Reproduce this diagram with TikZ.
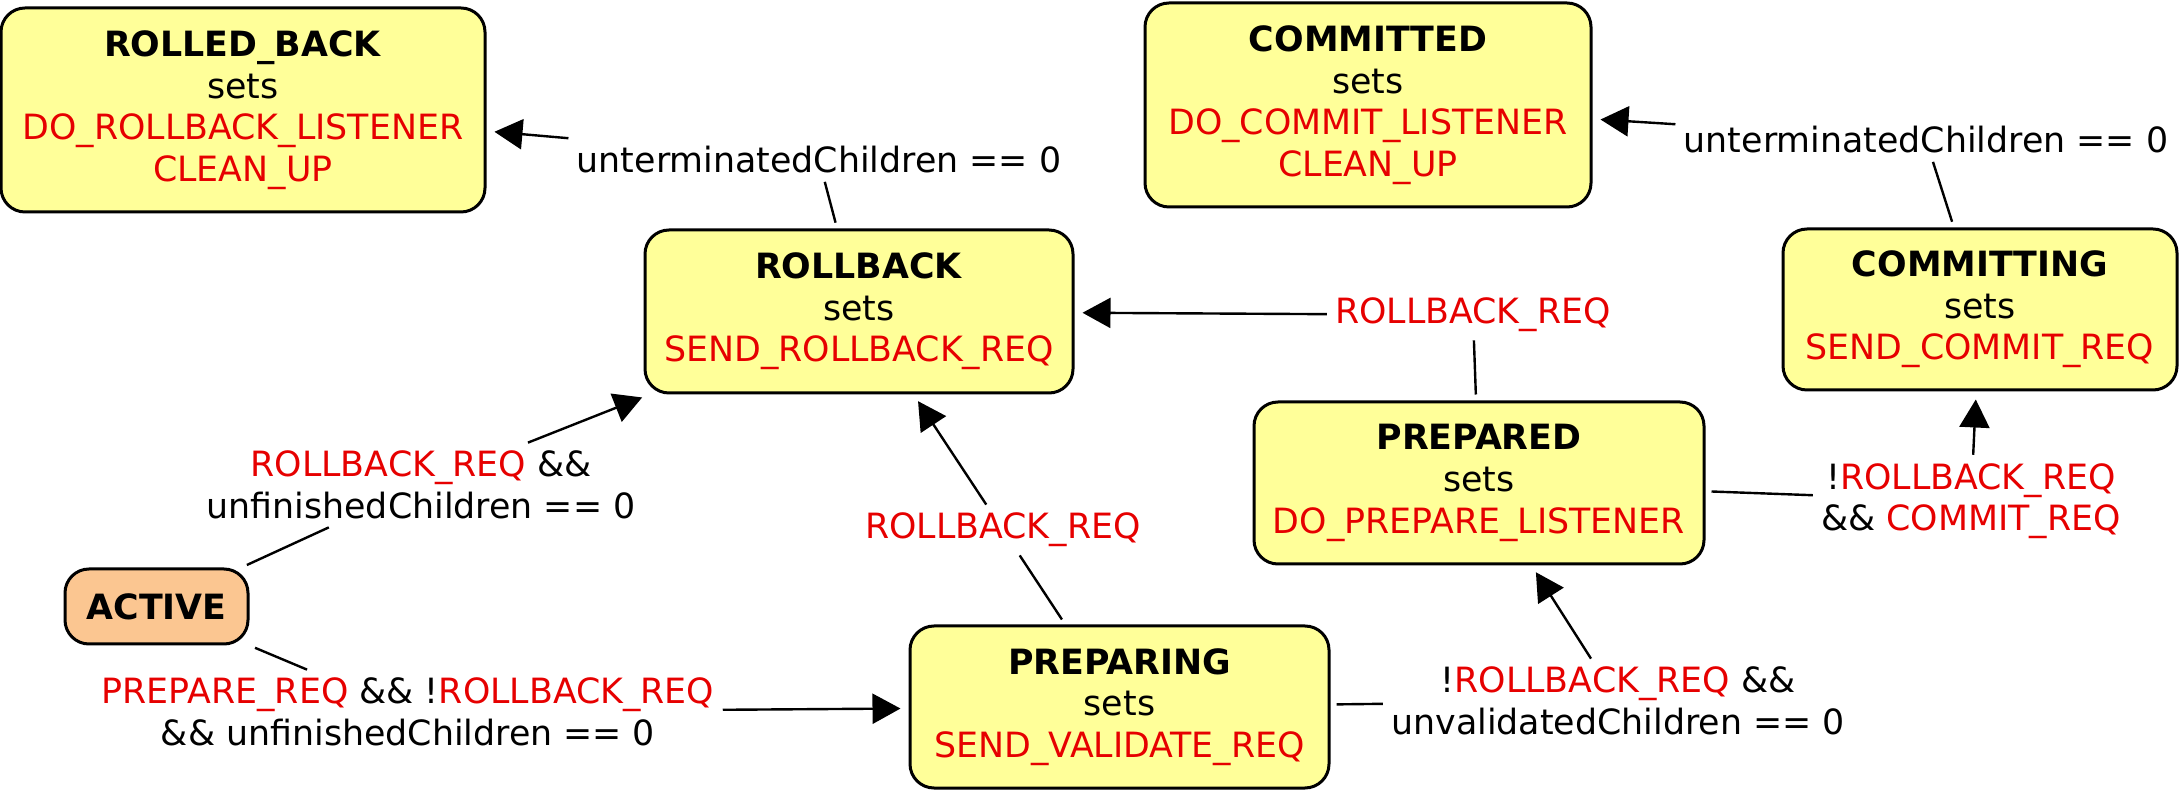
\documentclass[tikz,border=0pt]{standalone}
\usepackage{fontspec}
\setmainfont{DejaVu Sans}
\usetikzlibrary{arrows.meta}
\definecolor{stfill}{RGB}{255,255,153}
\definecolor{acfill}{RGB}{251,198,145}
\definecolor{flagred}{RGB}{230,0,0}
\newcommand{\flg}[1]{\textcolor{flagred}{#1}}

\begin{document}
\begin{tikzpicture}
[every node/.style={font=\fontsize{17.4}{20.8}\selectfont,align=center},x=0.5pt,y=-0.5pt,
  st/.style = {rectangle,draw,fill=stfill,line width=1.5pt,rounded corners=12pt},
  init/.style = {st,fill=acfill},
  lbl/.style = {inner sep=4pt},
  seg/.style = {line width=1.2pt,shorten <=3pt},
  arr/.style = {line width=1.2pt,-{Triangle[length=14pt,width=15pt]},shorten >=4pt}]
\useasboundingbox (0,0) rectangle (2184,795);
%
\node[st,minimum width=242pt,minimum height=102pt] (RBD) at (243,110) {\textbf{ROLLED\_BACK}\\sets\\\flg{DO\_ROLLBACK\_LISTENER}\\\flg{CLEAN\_UP}};
\node[st,minimum width=223pt,minimum height=102pt] (CMD) at (1368,105) {\textbf{COMMITTED}\\sets\\\flg{DO\_COMMIT\_LISTENER}\\\flg{CLEAN\_UP}};
\node[st,minimum width=214pt,minimum height=81.5pt] (RB) at (859,311.5) {\textbf{ROLLBACK}\\sets\\\flg{SEND\_ROLLBACK\_REQ}};
\node[st,minimum width=197pt,minimum height=80.5pt] (CG) at (1980,309.5) {\textbf{COMMITTING}\\sets\\\flg{SEND\_COMMIT\_REQ}};
\node[st,minimum width=225pt,minimum height=81pt] (PD) at (1479,483) {\textbf{PREPARED}\\sets\\\flg{DO\_PREPARE\_LISTENER}};
\node[st,minimum width=209.5pt,minimum height=81pt] (PG) at (1119.5,707) {\textbf{PREPARING}\\sets\\\flg{SEND\_VALIDATE\_REQ}};
\node[init,minimum width=91.5pt,minimum height=37.5pt] (AC) at (156.5,606.5) {\textbf{ACTIVE}};
%
\node[lbl] (L1) at (819,160) {unterminatedChildren == 0};
\node[lbl] (L2) at (1926,140) {unterminatedChildren == 0};
\node[lbl] (L3) at (1473,315) {\flg{ROLLBACK\_REQ}};
\node[lbl] (L4) at (421,485) {\flg{ROLLBACK\_REQ} \&\&\\unfinishedChildren == 0};
\node[lbl] (L5) at (1003,530) {\flg{ROLLBACK\_REQ}};
\node[lbl] (L6) at (408,712) {\flg{PREPARE\_REQ} \&\& !\flg{ROLLBACK\_REQ}\\\&\& unfinishedChildren == 0};
\node[lbl] (L7) at (1618,701) {!\flg{ROLLBACK\_REQ} \&\&\\unvalidatedChildren == 0};
\node[lbl] (L8) at (1971,501) {!\flg{ROLLBACK\_REQ}\\\&\& \flg{COMMIT\_REQ}};
%
   \path[seg] (RB) edge (L1) ;
   \path[arr] (L1) edge (RBD) ;
   \path[seg] (CG) edge (L2) ;
   \path[arr] (L2) edge (CMD) ;
   \path[seg] (PD) edge (L3) ;
   \path[arr] (L3) edge (RB) ;
   \path[seg] (AC) edge (L4) ;
   \path[arr] (L4) edge (RB) ;
   \path[seg] (PG) edge (L5) ;
   \path[arr] (L5) edge (RB) ;
   \path[seg] (AC) edge (L6) ;
   \path[arr] (L6) edge (PG) ;
   \path[seg] (PG) edge (L7) ;
   \path[arr] (L7) edge (PD) ;
   \path[seg] (PD) edge (L8) ;
   \path[arr] (L8) edge (CG) ;
\end{tikzpicture}
\end{document}
